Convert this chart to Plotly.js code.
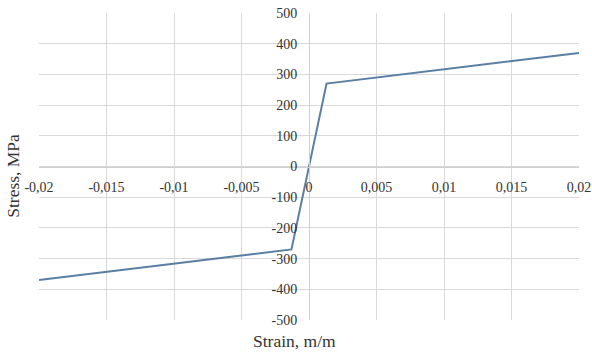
<!DOCTYPE html>
<html>
<head>
<meta charset="utf-8">
<script src="https://cdn.plot.ly/plotly-3.0.1.min.js"></script>
<style>html,body{margin:0;padding:0;background:#fff;}#chart{width:592px;height:352px;}</style>
</head>
<body>
<div id="chart"></div>
<script>
// Data
const strain = [-0.02, -0.0013, 0.0013, 0.02];
const stress = [-370, -270, 270, 370];

const xTickVals = [-0.02, -0.015, -0.01, -0.005, 0, 0.005, 0.01, 0.015, 0.02];
const xTickText = ["-0,02", "-0,015", "-0,01", "-0,005", "0", "0,005", "0,01", "0,015", "0,02"];
const yTickVals = [-500, -400, -300, -200, -100, 0, 100, 200, 300, 400, 500];
const yTickText = ["-500", "-400", "-300", "-200", "-100", "0", "100", "200", "300", "400", "500"];

const xTitle = "Strain, m/m";
const yTitle = "Stress, MPa";

const font = "Liberation Serif, Times New Roman, serif";
const textColor = "#333333";
const gridColor = "#d9d9d9";

const trace = {
  x: strain, y: stress, type: "scatter", mode: "lines",
  line: {color: "#5a7fa3", width: 2},
  hoverinfo: "skip"
};

const layout = {
  width: 592, height: 352,
  margin: {l: 39, r: 13, t: 13, b: 32},
  paper_bgcolor: "#fff", plot_bgcolor: "#fff",
  showlegend: false,
  font: {family: font, size: 14, color: textColor},
  xaxis: {
    range: [-0.02, 0.02], domain: [0, 1],
    anchor: "free", position: 0.5,
    tickvals: xTickVals, ticktext: xTickText,
    showgrid: true, gridcolor: gridColor, gridwidth: 1,
    zeroline: false, showline: true, linecolor: "#cfcfcf", linewidth: 1,
    ticks: "", ticklabelstandoff: 8,
    tickfont: {family: font, size: 14, color: textColor}
  },
  yaxis: {
    range: [-500, 500], domain: [0, 1],
    anchor: "free", position: 0.5,
    tickvals: yTickVals, ticktext: yTickText,
    showgrid: true, gridcolor: gridColor, gridwidth: 1,
    zeroline: false, showline: true, linecolor: "#cfcfcf", linewidth: 1,
    ticks: "", ticklabelstandoff: 9,
    tickfont: {family: font, size: 14, color: textColor}
  },
  annotations: [
    {text: xTitle, xref: "paper", yref: "paper", x: 0.474, y: -0.068,
     xanchor: "center", yanchor: "middle", showarrow: false,
     font: {family: font, size: 17.5, color: textColor}},
    {text: yTitle, xref: "paper", yref: "paper", x: -0.048, y: 0.47,
     xanchor: "center", yanchor: "middle", showarrow: false, textangle: -90,
     font: {family: font, size: 17.5, color: textColor}}
  ]
};

Plotly.newPlot("chart", [trace], layout, {displayModeBar: false, staticPlot: true});
</script>
</body>
</html>
